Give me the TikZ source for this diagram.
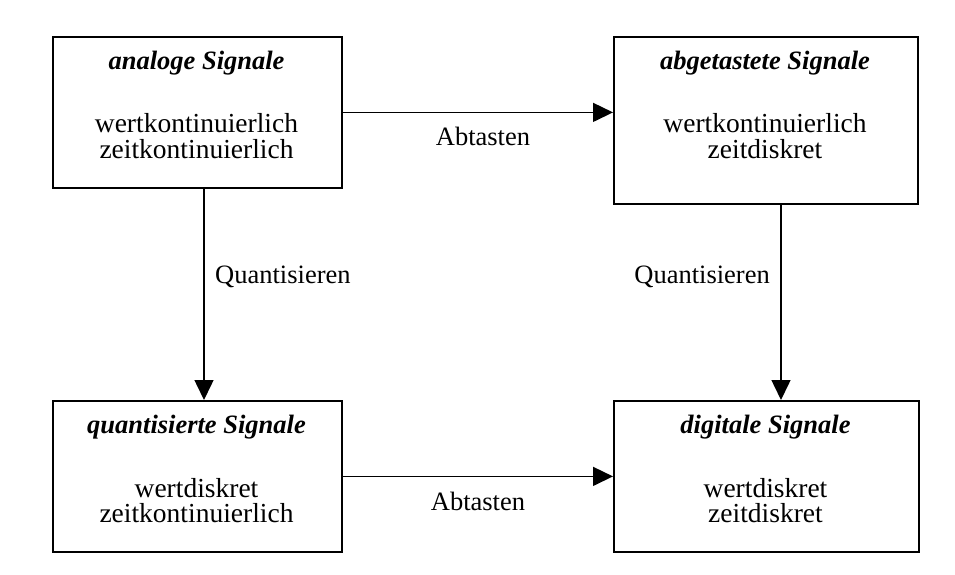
\documentclass[tikz,border=0pt]{standalone}
\usepackage{fontspec}
\setmainfont{Liberation Serif}
\usetikzlibrary{arrows.meta}
\begin{document}
\begin{tikzpicture}[x=1pt,y=-1pt,
  box/.style={draw,line width=1.8pt,inner sep=0pt,anchor=north west},
  txt/.style={anchor=base,inner sep=0pt,font=\fontsize{27.5}{30}\selectfont},
  lbl/.style={anchor=base,inner sep=0pt,font=\fontsize{26.5}{30}\selectfont},
  ttl/.style={anchor=base,inner sep=0pt,font=\fontsize{26.5}{30}\selectfont\bfseries\itshape},
  arr/.style={line width=1.5pt,-{Triangle[length=20pt,width=19pt]}}]
\useasboundingbox (0,0) rectangle (955,575);
% boxes
\node[box,minimum width=289pt,minimum height=151pt] (tl) at (52,36) {};
\node[box,minimum width=304pt,minimum height=167pt] (tr) at (613,36) {};
\node[box,minimum width=289pt,minimum height=151pt] (bl) at (52,400) {};
\node[box,minimum width=305pt,minimum height=151pt] (br) at (613,400) {};
% box texts
\node[ttl] (tlt) at (196.5,70) {analoge Signale};
\node[txt] (tl1) at (196.5,132) {wertkontinuierlich};
\node[txt] (tl2) at (196.5,158.5) {zeitkontinuierlich};
\node[ttl] (trt) at (765,70) {abgetastete Signale};
\node[txt] (tr1) at (765,132) {wertkontinuierlich};
\node[txt] (tr2) at (765,158.5) {zeitdiskret};
\node[ttl] (blt) at (196.5,433.5) {quantisierte Signale};
\node[txt] (bl1) at (196.5,497) {wertdiskret};
\node[txt] (bl2) at (196.5,522) {zeitkontinuierlich};
\node[ttl] (brt) at (765.5,433.5) {digitale Signale};
\node[txt] (br1) at (765.5,497) {wertdiskret};
\node[txt] (br2) at (765.5,522) {zeitdiskret};
% connector columns
\coordinate (cl) at (204,300);
\coordinate (cr) at (781,300);
% connectors
\draw[arr] (tl.east) -- (tl.east -| tr.west);
\draw[arr] (bl.east) -- (bl.east -| br.west);
\draw[arr] (tl.south -| cl) -- (bl.north -| cl);
\draw[arr] (tr.south -| cr) -- (br.north -| cr);
% labels
\node[lbl] (ab1) at (483,145) {Abtasten};
\node[lbl] (ab2) at (478,510) {Abtasten};
\node[lbl,anchor=base west] (q1) at (215,283) {Quantisieren};
\node[lbl,anchor=base east] (q2) at (770,283) {Quantisieren};
\end{tikzpicture}
\end{document}
